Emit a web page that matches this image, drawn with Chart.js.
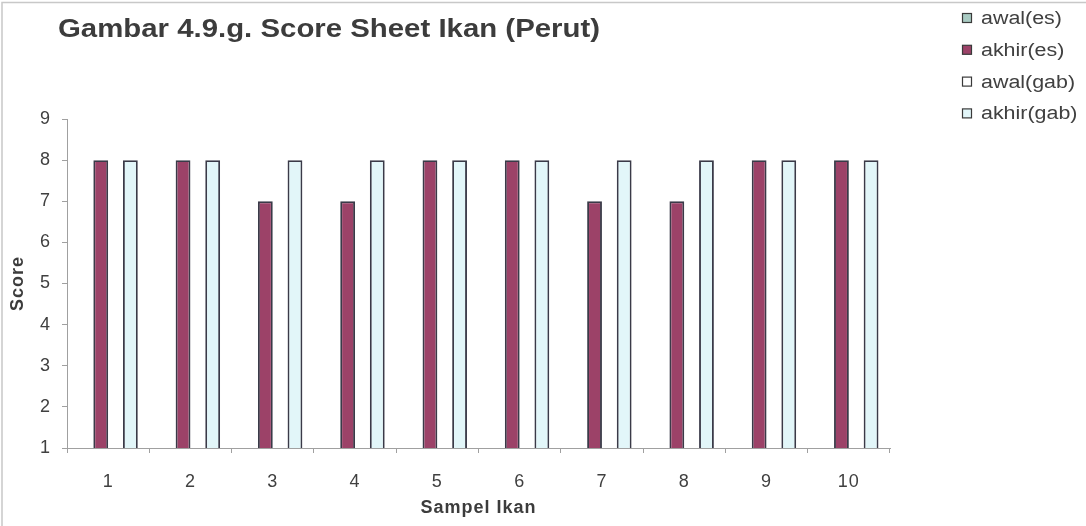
<!DOCTYPE html>
<html>
<head>
<meta charset="utf-8">
<script src="https://cdn.jsdelivr.net/npm/chart.js@4/dist/chart.umd.min.js"></script>
<style>
  html, body { margin: 0; padding: 0; background: #ffffff; }
  #wrap { width: 1086px; height: 526px; position: relative; }
  canvas { display: block; }
</style>
</head>
<body>
<div id="wrap"><canvas id="c" width="1086" height="526"></canvas></div>
<script>
// Fish samples on the x axis
const categories = ['1', '2', '3', '4', '5', '6', '7', '8', '9', '10'];
// Series labels
const seriesNames = ['awal(es)', 'akhir(es)', 'awal(gab)', 'akhir(gab)'];
// Scores per series (awal columns carry no visible bars)
const awalEs   = [null, null, null, null, null, null, null, null, null, null];
const akhirEs  = [8, 8, 7, 7, 8, 8, 7, 7, 8, 8];
const awalGab  = [null, null, null, null, null, null, null, null, null, null];
const akhirGab = [8, 8, 8, 8, 8, 8, 8, 8, 8, 8];
// Value axis ticks
const yTicks = [1, 2, 3, 4, 5, 6, 7, 8, 9];

const fillColors = ['#a9cbc3', '#9c4268', '#ffffff', '#e2f6f9'];
const FONT = '"Liberation Sans", Arial, sans-serif';
const TEXT = '#404040';

// Draws text with a horizontal stretch factor
function wideText(ctx, text, x, y, sx) {
  ctx.save();
  ctx.translate(x, y);
  ctx.scale(sx, 1);
  ctx.fillText(text, 0, 0);
  ctx.restore();
}

// Title toward the left of the figure, legend on the right, frame lines
const decor = {
  id: 'decor',
  beforeDraw(chart) {
    const ctx = chart.ctx;
    ctx.save();
    ctx.fillStyle = '#ffffff';
    ctx.fillRect(0, 0, chart.width, chart.height);
    ctx.strokeStyle = '#c8c8c8';
    ctx.lineWidth = 1.5;
    ctx.beginPath();
    ctx.moveTo(2, chart.height);
    ctx.lineTo(2, 2.5);
    ctx.lineTo(chart.width, 2.5);
    ctx.stroke();
    ctx.restore();
    // slightly looser letter spacing for the axis text
    ctx.letterSpacing = '1px';
  },
  afterDraw(chart) {
    const ctx = chart.ctx;
    ctx.letterSpacing = '0px';
    ctx.save();
    ctx.fillStyle = '#3c3c3c';
    ctx.font = 'bold 26px ' + FONT;
    ctx.textBaseline = 'alphabetic';
    ctx.textAlign = 'left';
    const title = 'Gambar 4.9.g. Score Sheet Ikan (Perut)';
    const tw = ctx.measureText(title).width;
    wideText(ctx, title, 58, 37, 542 / tw);

    ctx.font = '18px ' + FONT;
    ctx.textBaseline = 'middle';
    chart.data.datasets.forEach((ds, i) => {
      const y = 18 + i * 31.8;
      ctx.fillStyle = ds.backgroundColor;
      ctx.fillRect(962.5, y - 4.5, 9, 9);
      ctx.strokeStyle = '#3a3a3a';
      ctx.lineWidth = 1.2;
      ctx.strokeRect(962.5, y - 4.5, 9, 9);
      ctx.fillStyle = TEXT;
      wideText(ctx, ds.label, 981, y + 1, 1.19);
    });
    ctx.restore();
  }
};

const seriesData = [awalEs, akhirEs, awalGab, akhirGab];

new Chart(document.getElementById('c'), {
  type: 'bar',
  data: {
    labels: categories,
    datasets: seriesNames.map((name, i) => ({
      label: name,
      data: seriesData[i],
      backgroundColor: fillColors[i],
      borderColor: '#3a3a48',
      borderWidth: 1.9,
      borderSkipped: 'bottom',
      categoryPercentage: 0.72,
      barPercentage: 1.0
    }))
  },
  options: {
    responsive: false,
    animation: false,
    devicePixelRatio: 1,
    layout: { padding: { left: 0, top: 119, right: 196, bottom: 0 } },
    plugins: {
      legend: { display: false },
      title: { display: false },
      tooltip: { enabled: false }
    },
    scales: {
      x: {
        offset: true,
        grid: {
          display: true,
          offset: true,
          drawOnChartArea: false,
          drawTicks: true,
          tickLength: 5,
          color: '#a0a0a0'
        },
        border: { display: true, color: '#a0a0a0', width: 1 },
        ticks: { color: TEXT, font: { family: FONT, size: 18 }, padding: 18 },
        title: {
          display: true,
          text: 'Sampel Ikan',
          color: '#3c3c3c',
          font: { family: FONT, size: 18, weight: 'bold' },
          padding: { top: 0, bottom: 7 }
        },
        afterFit(scale) { scale.height = 78; }
      },
      y: {
        min: 1,
        max: 9,
        afterBuildTicks(scale) { scale.ticks = yTicks.map(v => ({ value: v })); },
        grid: {
          display: true,
          drawOnChartArea: false,
          drawTicks: true,
          tickLength: 5,
          color: '#a0a0a0'
        },
        border: { display: true, color: '#a0a0a0', width: 1 },
        ticks: { color: TEXT, font: { family: FONT, size: 18 }, padding: 11 },
        title: {
          display: true,
          text: 'Score',
          color: '#3c3c3c',
          font: { family: FONT, size: 18, weight: 'bold' },
          padding: { top: 7, bottom: 0 }
        },
        afterFit(scale) { scale.width = 67; }
      }
    }
  },
  plugins: [decor]
});
</script>
</body>
</html>
